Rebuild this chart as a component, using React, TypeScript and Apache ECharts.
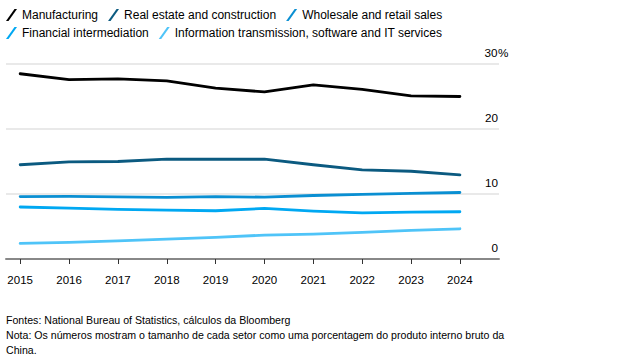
import React, { useEffect, useRef } from "react";
import * as echarts from "echarts";

const years = [2015, 2016, 2017, 2018, 2019, 2020, 2021, 2022, 2023, 2024];
const manufacturing = [28.5, 27.6, 27.7, 27.4, 26.3, 25.7, 26.8, 26.1, 25.1, 25.0];
const realEstate = [14.5, 14.95, 15.0, 15.35, 15.35, 15.35, 14.5, 13.7, 13.5, 12.95];
const wholesale = [9.6, 9.65, 9.55, 9.47, 9.6, 9.52, 9.77, 9.93, 10.1, 10.23];
const financial = [8.0, 7.83, 7.62, 7.52, 7.42, 7.78, 7.37, 7.11, 7.2, 7.27];
const infoTech = [2.4, 2.55, 2.8, 3.07, 3.32, 3.68, 3.84, 4.09, 4.39, 4.65];
const yTicks = [0, 10, 20, 30];

const seriesDefs = [
  { name: "Manufacturing", data: manufacturing, color: "#000000" },
  { name: "Real estate and construction", data: realEstate, color: "#0b5a80" },
  { name: "Wholesale and retail sales", data: wholesale, color: "#0a8fd2" },
  { name: "Financial intermediation", data: financial, color: "#00a8f2" },
  { name: "Information transmission, software and IT services", data: infoTech, color: "#4fc4f8" },
];

const FONT = "'Liberation Sans', Arial, Helvetica, sans-serif";
const ICON = "path://M0,12 L8.5,0 L11,0 L2.5,12 Z";

export default function App() {
  const ref = useRef<HTMLDivElement>(null);
  useEffect(() => {
    document.body.style.margin = "0";
    const chart = echarts.init(ref.current!, null, { renderer: "svg" });
    const legendBase = {
      orient: "horizontal",
      left: 6,
      padding: 0,
      itemGap: 10,
      itemWidth: 11,
      itemHeight: 12,
      icon: ICON,
      selectedMode: false,
      textStyle: { fontFamily: FONT, fontSize: 12, color: "#000", lineHeight: 14 },
    };
    chart.setOption({
      animation: false,
      backgroundColor: "#fff",
      legend: [
        { ...legendBase, top: 8, data: seriesDefs.slice(0, 3).map((s) => s.name) },
        { ...legendBase, top: 26, data: seriesDefs.slice(3).map((s) => s.name) },
      ],
      grid: { left: 6, right: 141, top: 64, bottom: 101, containLabel: false },
      xAxis: {
        type: "value",
        min: 2014.71,
        max: 2024.8,
        splitLine: { show: false },
        axisLine: { show: true, lineStyle: { color: "#888", width: 2 } },
        axisTick: {
          show: true,
          customValues: years,
          length: 5,
          lineStyle: { color: "#333", width: 1 },
        },
        axisLabel: {
          customValues: years,
          formatter: (v: number) => String(Math.round(v)),
          margin: 15,
          fontFamily: FONT,
          fontSize: 11.5,
          color: "#000",
        },
      },
      yAxis: {
        type: "value",
        position: "right",
        min: 0,
        max: 30,
        interval: 10,
        axisLine: { show: false },
        axisTick: { show: false },
        splitLine: { show: true, lineStyle: { color: "#e2e2e2", width: 1.5 } },
        axisLabel: {
          inside: true,
          margin: 15,
          align: "left",
          verticalAlign: "bottom",
          padding: [0, 0, 6, 0],
          fontFamily: FONT,
          fontSize: 11.7,
          color: "#000",
          formatter: (v: number) => (v === 30 ? "{a|30}{p|%}" : "{a|" + v + "}"),
          rich: {
            a: { fontFamily: FONT, fontSize: 11.7, color: "#000", width: 14, align: "right" },
            p: { fontFamily: FONT, fontSize: 11.7, color: "#000" },
          },
        },
      },
      series: seriesDefs.map((s) => ({
        name: s.name,
        type: "line",
        data: years.map((y, i) => [y, s.data[i]]),
        symbol: "none",
        color: s.color,
        lineStyle: { color: s.color, width: 2.8, cap: "round", join: "round" },
      })),
      graphic: [
        {
          type: "text",
          left: 6,
          top: 312,
          style: {
            text:
              "Fontes: National Bureau of Statistics, cálculos da Bloomberg\nNota: Os números mostram o tamanho de cada setor como uma porcentagem do produto interno bruto da\nChina.",
            font: "10.6px " + FONT,
            lineHeight: 15,
            fill: "#000",
          },
        },
      ],
    });
    return () => chart.dispose();
  }, []);
  return <div ref={ref} style={{ width: 640, height: 360 }} />;
}
